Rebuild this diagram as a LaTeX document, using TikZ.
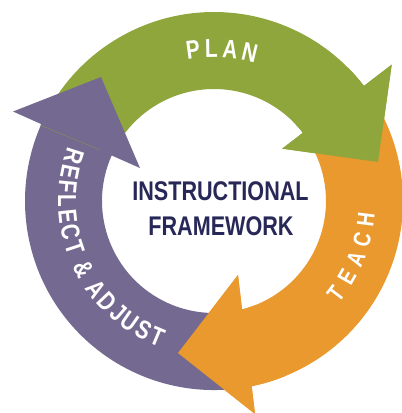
\documentclass[tikz,border=0pt]{standalone}
\usepackage{fontspec}
\newfontfamily\cond[FakeStretch=0.8]{Liberation Sans}
\definecolor{pgreen}{RGB}{143,166,60}
\definecolor{porange}{RGB}{233,153,45}
\definecolor{ppurple}{RGB}{116,106,145}
\definecolor{pnavy}{RGB}{40,40,88}
\tikzset{
  centertext/.style={font=\cond\bfseries\fontsize{27}{27}\selectfont, text=pnavy, inner sep=0pt},
  ringletter/.style={font=\cond\bfseries\fontsize{#1}{#1}\selectfont, text=white, inner sep=0pt}
}
\begin{document}
\begin{tikzpicture}[x=1pt,y=1pt]
\useasboundingbox (0,0) rectangle (402,-413);
\fill[white] (0,0) rectangle (402,-413);
\coordinate (C) at (214,-201);
% green arrow (PLAN)
\fill[pgreen] ([shift={(150:189pt)}]C) arc[start angle=150,end angle=37.5,radius=189pt]
  -- ([shift={(37.5:224pt)}]C) -- (378,-162) -- ([shift={(37.5:86pt)}]C) -- ([shift={(37.5:112pt)}]C)
  arc[start angle=37.5,end angle=150,radius=112pt] -- cycle;
% orange arrow (TEACH)
\fill[porange] ([shift={(32:189pt)}]C) arc[start angle=32,end angle=-78.5,radius=189pt]
  -- (255,-414) -- (178,-353) -- (238,-275) -- ([shift={(-75.5:112pt)}]C)
  arc[start angle=-75.5,end angle=32,radius=112pt] -- cycle;
% purple arrow (REFLECT & ADJUST)
\fill[ppurple] ([shift={(280:189pt)}]C) arc[start angle=280,end angle=156,radius=189pt]
  -- ([shift={(156:220pt)}]C) -- (101,-77) -- ([shift={(156:81pt)}]C) -- ([shift={(156:112pt)}]C)
  arc[start angle=156,end angle=280,radius=112pt] -- cycle;
\draw[line width=0.5pt, pgreen!55!ppurple] (40,-125) -- (100,-150);
% orange head again, over the purple tail
\fill[porange] ([shift={(-68:189pt)}]C) arc[start angle=-68,end angle=-78.5,radius=189pt]
  -- (255,-414) -- (178,-353) -- (238,-275) -- ([shift={(-75.5:112pt)}]C)
  arc[start angle=-75.5,end angle=-68,radius=112pt] -- cycle;
% green head again, over the orange tail
\fill[pgreen] ([shift={(45:189pt)}]C) arc[start angle=45,end angle=37.5,radius=189pt]
  -- ([shift={(37.5:224pt)}]C) -- (378,-162) -- ([shift={(37.5:86pt)}]C) -- ([shift={(37.5:112pt)}]C)
  arc[start angle=37.5,end angle=45,radius=112pt] -- cycle;
% centre text
\node[centertext] (instr) at (220.5,-191) {INSTRUCTIONAL};
\node[centertext] (frame) at (221,-226.5) {FRAMEWORK};
% ring labels, letter by letter
\foreach \ch/\a [count=\i] in {P/97.9, L/91.0, A/83.9, N/76.4}
  \node[ringletter=26, rotate=\a-90] (plan\i) at ([shift={(\a:152.5pt)}]C) {\ch};
\foreach \ch/\a [count=\i] in {T/-37.2, E/-29.7, A/-22.1, C/-14.6, H/-7.1}
  \node[ringletter=24, rotate=\a+90] (teach\i) at ([shift={(\a:153pt)}]C) {\ch};
\foreach \ch/\a [count=\i] in {R/162.3, E/168.6, F/174.5, L/180.1, E/186.0, C/192.3, T/198.4,
    \&/207.4, A/216.9, D/223.4, J/229.3, U/235.1, S/241.4, T/247.3}
  \node[ringletter=26, rotate=\a+90] (refl\i) at ([shift={(\a:147pt)}]C) {\ch};
\end{tikzpicture}
\end{document}
